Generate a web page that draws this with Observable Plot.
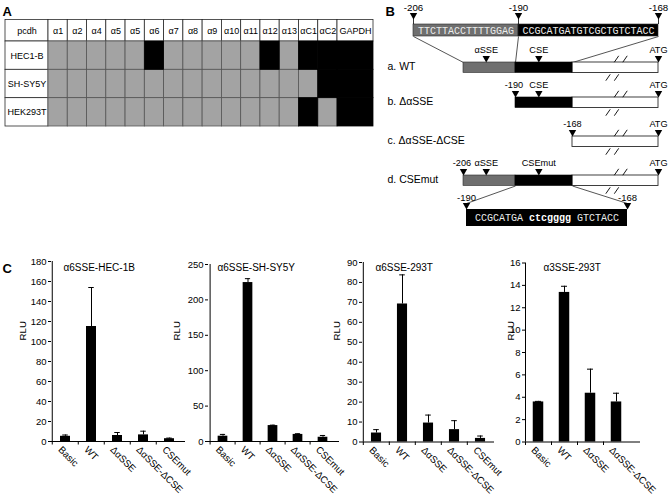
<!DOCTYPE html>
<html><head><meta charset="utf-8">
<script src="https://cdn.jsdelivr.net/npm/d3@7"></script>
<script src="https://cdn.jsdelivr.net/npm/@observablehq/plot@0.6"></script>
<style>
html,body{margin:0;padding:0;background:#fff;}
#fig{position:relative;width:672px;height:494px;overflow:hidden;background:#fff;}
#fig svg{position:absolute;left:0;top:0;}
</style></head>
<body><div id="fig"></div>
<script>
// ================= DATA =================
// Panel A: expression of Pcdh-alpha isoforms (1 = expressed / black)
const pcdhColumns = ["α1","α2","α4","α5","α5","α6","α7","α8","α9","α10","α11","α12","α13","αC1","αC2","GAPDH"];
const cellLines = ["HEC1-B","SH-SY5Y","HEK293T"];
const hec1bExpressed   = [0,0,0,0,0,1,0,0,0,0,0,1,0,1,1,1];
const shsy5yExpressed  = [0,0,0,0,0,0,0,0,0,0,0,0,0,0,1,1];
const hek293tExpressed = [0,0,0,0,0,0,0,0,0,0,0,0,0,1,0,1];

// Panel B: promoter constructs (positions in bp, ATG = 0)
const seqSites = [-206, -190, -168];
const seqAlphaSSE = "TTCTTACCTTTTGGAG";
const seqCSE = "CCGCATGATGTCGCTGTCTACC";
const constructNames = ["a. WT", "b. ΔαSSE", "c. ΔαSSE-ΔCSE", "d. CSEmut"];
const segConstruct = [0, 0, 0, 1, 1, 2, 3, 3, 3];
const segStart     = [-206, -190, -168, -190, -168, -168, -206, -190, -168];
const segEnd       = [-190, -168, 0, -168, 0, 0, -190, -168, 0];
const segRegion    = ["αSSE", "CSE", "body", "CSE", "body", "body", "αSSE", "CSE", "body"];
const siteConstruct = [0, 0, 0, 1, 1, 1, 2, 2, 3, 3, 3, 3];
const sitePos       = [-199, -181, 0, -190, -181, 0, -168, 0, -206, -199, -181, 0];
const siteLabel     = ["αSSE", "CSE", "ATG", "-190", "CSE", "ATG", "-168", "ATG", "-206", "αSSE", "CSEmut", "ATG"];
const breakPos = -82;
const mutSites = [-190, -168];
const mutSeqParts = ["CCGCATGA", "ctcgggg", "GTCTACC"];

// Panel C: luciferase assays (RLU, mean and error)
const constructsC = ["Basic", "WT", "ΔαSSE", "ΔαSSE-ΔCSE", "CSEmut"];
const chartTitles = ["α6SSE-HEC-1B", "α6SSE-SH-SY5Y", "α6SSE-293T", "α3SSE-293T"];
const rluHEC1B   = [5.2, 115, 6, 6.6, 2.8];
const errHEC1B   = [1.3, 39, 3, 3.7, 0.6];
const rluSHSY5Y  = [7.5, 224.5, 22.5, 10, 6];
const errSHSY5Y  = [2.5, 5.5, 0.6, 1, 2.5];
const rluA6293T  = [4.5, 69.2, 9.5, 6.2, 1.8];
const errA6293T  = [1.7, 14.6, 4, 4.5, 1.2];
const rluA3293T  = [3.58, 13.37, 4.36, 3.58];
const errA3293T  = [0.05, 0.55, 2.15, 0.78];
const ticksHEC1B  = [0, 20, 40, 60, 80, 100, 120, 140, 160, 180];
const ticksSHSY5Y = [0, 50, 100, 150, 200, 250];
const ticksA6293T = [0, 10, 20, 30, 40, 50, 60, 70, 80, 90];
const ticksA3293T = [0, 2, 4, 6, 8, 10, 12, 14, 16];

// ================= LAYOUT =================
const W = 672, H = 494;
const FONT = "Liberation Sans, Arial, Helvetica, sans-serif";
const MONO = "Liberation Mono, Courier New, monospace";
const fig = document.getElementById("fig");
const GRAY_A = "#a3a3a3", GRAY_B = "#6f6f6f", LINE = "#2a2a2a";

// ---------- Panels A & B (schematic, identity scales) ----------
const colEdge = d3.scaleLinear().domain([0, 15]).range([48, 337]);
const colSpan = j => j < 15 ? [colEdge(j), colEdge(j + 1)] : [337, 373];
const labelSpan = [5, 48];
const rowEdge = d3.scaleLinear().domain([0, 3]).range([41, 126]);
const headerSpan = [19.5, 41];
const expr = [hec1bExpressed, shsy5yExpressed, hek293tExpressed];

const whiteCells = [], grayCells = [], blackCells = [], tableText = [];
whiteCells.push({x1: labelSpan[0], x2: labelSpan[1], y1: headerSpan[0], y2: headerSpan[1]});
tableText.push({x: (labelSpan[0] + labelSpan[1]) / 2, y: (headerSpan[0] + headerSpan[1]) / 2, t: "pcdh"});
pcdhColumns.forEach((c, j) => {
  const [x1, x2] = colSpan(j);
  whiteCells.push({x1, x2, y1: headerSpan[0], y2: headerSpan[1]});
  tableText.push({x: (x1 + x2) / 2, y: (headerSpan[0] + headerSpan[1]) / 2, t: c});
});
cellLines.forEach((line, i) => {
  const y1 = rowEdge(i), y2 = rowEdge(i + 1);
  whiteCells.push({x1: labelSpan[0], x2: labelSpan[1], y1, y2});
  tableText.push({x: (labelSpan[0] + labelSpan[1]) / 2, y: (y1 + y2) / 2, t: line});
  pcdhColumns.forEach((c, j) => {
    const [x1, x2] = colSpan(j);
    (expr[i][j] ? blackCells : grayCells).push({x1, x2, y1, y2});
  });
});

// Panel B scales (schematic: piecewise bp -> px)
const bpX = d3.scaleLinear().domain([-206, -190, -168, 0]).range([463, 515, 572, 658]);
const seqX = d3.scaleLinear().domain([-206, -190, -168]).range([413, 518, 658]);
const mutX = d3.scaleLinear().domain([-190, -168]).range([466, 627]);
const rowTop = [62, 97, 136, 175], barH = 10.5;
const seqTop = 24, seqBot = 36, mutTop = 209, mutBot = 226;

const triDown = {draw(ctx) { const w = 3.7, h = 6.5; ctx.moveTo(-w, -h); ctx.lineTo(w, -h); ctx.lineTo(0, 0); ctx.closePath(); }};

const segs = segConstruct.map((k, i) => ({x1: bpX(segStart[i]), x2: bpX(segEnd[i]), y1: rowTop[k], y2: rowTop[k] + barH, r: segRegion[i]}));
const sites = siteConstruct.map((k, i) => ({x: bpX(sitePos[i]), y: rowTop[k], label: siteLabel[i]}));
const slashes = [];
constructNames.forEach((n, k) => {
  const bx = bpX(breakPos), top = rowTop[k], bot = rowTop[k] + barH;
  [[bx, top - 3.5], [bx + 8.5, top - 3.5], [bx - 8.5, bot + 4.5], [bx, bot + 4.5]].forEach(([cx, cy]) =>
    slashes.push({x1: cx - 2.2, y1: cy + 3.2, x2: cx + 2.2, y2: cy - 3.2}));
});
const seqParts = [
  {x1: seqX(seqSites[0]), x2: seqX(seqSites[1]), fill: GRAY_B, t: seqAlphaSSE},
  {x1: seqX(seqSites[1]), x2: seqX(seqSites[2]), fill: "black", t: seqCSE}
];
const connectors = seqSites.map(p => ({x1: seqX(p), y1: seqBot, x2: bpX(p), y2: rowTop[0]}));
const mutConnectors = mutSites.map(p => ({x1: bpX(p), y1: rowTop[3] + barH, x2: mutX(p), y2: mutTop - 6}));
const cw = 6; // monospace advance at 10px
const mutStart = (mutX(-190) + mutX(-168)) / 2 - 12 * cw;
const mutOffsets = [0, 9, 17];
const mutText = mutSeqParts.map((t, i) => ({x: mutStart + mutOffsets[i] * cw, y: (mutTop + mutBot) / 2, t, bold: i === 1}));

const diagram = Plot.plot({
  width: W, height: H, margin: 0,
  x: {type: "identity", axis: null}, y: {type: "identity", axis: null},
  style: {background: "transparent", fontFamily: FONT, fontSize: "10px", color: "black"},
  marks: [
    // Panel A
    Plot.rect(whiteCells, {x1: "x1", x2: "x2", y1: "y1", y2: "y2", fill: "white", stroke: LINE, strokeWidth: 0.8}),
    Plot.rect(grayCells, {x1: "x1", x2: "x2", y1: "y1", y2: "y2", fill: GRAY_A, stroke: "#555", strokeWidth: 0.8}),
    Plot.rect(blackCells, {x1: "x1", x2: "x2", y1: "y1", y2: "y2", fill: "black", stroke: "black", strokeWidth: 0.8}),
    Plot.text(tableText, {x: "x", y: "y", text: "t", fontSize: 9, fill: "black"}),
    // Panel B: top sequence box
    Plot.rect(seqParts, {x1: "x1", x2: "x2", y1: seqTop, y2: seqBot, fill: "fill", stroke: LINE, strokeWidth: 0.6}),
    Plot.text(seqParts, {x: d => (d.x1 + d.x2) / 2, y: (seqTop + seqBot) / 2, text: "t", fill: "#ececec", fontFamily: MONO, fontSize: 10}),
    Plot.ruleX(seqSites, {x: p => seqX(p), y1: 17, y2: seqTop, stroke: "black", strokeWidth: 0.8}),
    Plot.dot(seqSites, {x: p => seqX(p), y: 19, symbol: triDown, fill: "black", stroke: null}),
    Plot.text(seqSites, {x: p => seqX(p), y: 7.5, text: p => String(p), fontSize: 9.7}),
    Plot.link(connectors, {x1: "x1", y1: "y1", x2: "x2", y2: "y2", stroke: LINE, strokeWidth: 0.8}),
    // constructs
    Plot.rect(segs.filter(d => d.r === "body"), {x1: "x1", x2: "x2", y1: "y1", y2: "y2", fill: "white", stroke: LINE, strokeWidth: 0.9}),
    Plot.rect(segs.filter(d => d.r === "αSSE"), {x1: "x1", x2: "x2", y1: "y1", y2: "y2", fill: GRAY_B, stroke: LINE, strokeWidth: 0.6}),
    Plot.rect(segs.filter(d => d.r === "CSE"), {x1: "x1", x2: "x2", y1: "y1", y2: "y2", fill: "black", stroke: "black", strokeWidth: 0.6}),
    Plot.link(slashes, {x1: "x1", y1: "y1", x2: "x2", y2: "y2", stroke: "black", strokeWidth: 0.9}),
    Plot.dot(sites, {x: "x", y: "y", symbol: triDown, fill: "black", stroke: null}),
    Plot.text(sites, {x: d => d.label === "-206" || d.label === "-190" ? d.x - 1.5 : d.x, y: d => d.y - 12.5, text: "label", fontSize: 9.2}),
    Plot.text(constructNames, {x: 387, y: (d, i) => rowTop[i] + barH / 2 - 1, text: d => d, textAnchor: "start", fontSize: 10.5}),
    // CSE mutant detail
    Plot.link(mutConnectors, {x1: "x1", y1: "y1", x2: "x2", y2: "y2", stroke: LINE, strokeWidth: 0.8}),
    Plot.rect([0], {x1: mutX(-190), x2: mutX(-168), y1: mutTop, y2: mutBot, fill: "black"}),
    Plot.dot(mutSites, {x: p => mutX(p), y: mutTop, symbol: triDown, fill: "black", stroke: null}),
    Plot.text(mutSites, {x: p => mutX(p), y: mutTop - 11.5, text: p => String(p), fontSize: 9.5}),
    Plot.text(mutText.filter(d => !d.bold), {x: "x", y: "y", text: "t", textAnchor: "start", fill: "#ececec", fontFamily: MONO, fontSize: 10}),
    Plot.text(mutText.filter(d => d.bold), {x: "x", y: "y", text: "t", textAnchor: "start", fill: "white", fontFamily: MONO, fontSize: 10, fontWeight: "bold"}),
    // panel letters
    Plot.text(["A", "B", "C"], {x: [2, 385, 2], y: [11, 11.5, 268.5], text: d => d, textAnchor: "start", fontSize: 13, fontWeight: "bold"})
  ]
});
fig.appendChild(diagram);

// ---------- Panel C: bar charts ----------
function barChart(cfg) {
  const {title, cats, values, errors, ticks, x0, x1, xEnd, yTop, yBottom, rluX, titleX, titleY} = cfg;
  const data = cats.map((c, i) => ({cat: c, v: values[i], hi: values[i] + errors[i]}));
  const bw = (x1 - x0) / cats.length;
  const barW = 10.5, capW = 6;
  const ymax = ticks[ticks.length - 1];
  return Plot.plot({
    width: W, height: H,
    marginLeft: x0, marginRight: W - xEnd, marginTop: yTop, marginBottom: H - yBottom,
    x: {type: "band", domain: cats, range: [x0, x1], padding: 0, axis: null},
    y: {domain: [0, ymax], axis: null},
    style: {background: "transparent", fontFamily: FONT, fontSize: "9px", color: "black"},
    marks: [
      Plot.ruleX(data, {x: "cat", y1: "v", y2: "hi", stroke: "black", strokeWidth: 1}),
      Plot.tickY(data, {x: "cat", y: "hi", inset: (bw - capW) / 2, stroke: "black", strokeWidth: 1}),
      Plot.barY(data, {x: "cat", y: "v", fill: "black", insetLeft: (bw - barW) / 2, insetRight: (bw - barW) / 2}),
      Plot.ruleY([0], {stroke: "black", strokeWidth: 1}),
      Plot.ruleX([cats[0]], {x: d => d, dx: -bw / 2, y1: 0, y2: ymax, stroke: "black", strokeWidth: 1}),
      Plot.axisY(ticks, {tickSize: 3, tickPadding: 2, label: null, fontSize: 9.5, fill: "black"}),
      Plot.axisX({tickSize: 3.5, tickFormat: () => "", dx: -bw / 2, label: null}),
      Plot.text(data, {x: "cat", frameAnchor: "bottom", text: "cat", rotate: 45, textAnchor: "start", lineAnchor: "top", dx: -3, dy: 4, fontSize: 9.7, fill: "black"}),
      Plot.text(["RLU"], {frameAnchor: "left", dx: rluX - x0, dy: 340 - (yTop + yBottom) / 2, rotate: -90, fontSize: 9.7, fill: "black"}),
      Plot.text([title], {frameAnchor: "top-left", dx: titleX - x0, dy: titleY - yTop, textAnchor: "start", lineAnchor: "middle", fontSize: 10, fill: "black"})
    ]
  });
}

const chartConfigs = [
  {title: chartTitles[0], cats: constructsC, values: rluHEC1B, errors: errHEC1B, ticks: ticksHEC1B,
   x0: 51, x1: 183.5, xEnd: 185, yTop: 261, yBottom: 441, rluX: 22, titleX: 63, titleY: 267},
  {title: chartTitles[1], cats: constructsC, values: rluSHSY5Y, errors: errSHSY5Y, ticks: ticksSHSY5Y,
   x0: 208, x1: 337, xEnd: 339, yTop: 264, yBottom: 441, rluX: 176, titleX: 217, titleY: 267.5},
  {title: chartTitles[2], cats: constructsC, values: rluA6293T, errors: errA6293T, ticks: ticksA6293T,
   x0: 362, x1: 494, xEnd: 494, yTop: 262, yBottom: 441.5, rluX: 336, titleX: 375, titleY: 267.5},
  {title: chartTitles[3], cats: constructsC.slice(0, 4), values: rluA3293T, errors: errA3293T, ticks: ticksA3293T,
   x0: 525, x1: 629, xEnd: 640, yTop: 262.5, yBottom: 441.5, rluX: 510, titleX: 543, titleY: 267}
];
chartConfigs.forEach(cfg => fig.appendChild(barChart(cfg)));
</script>
</body></html>
